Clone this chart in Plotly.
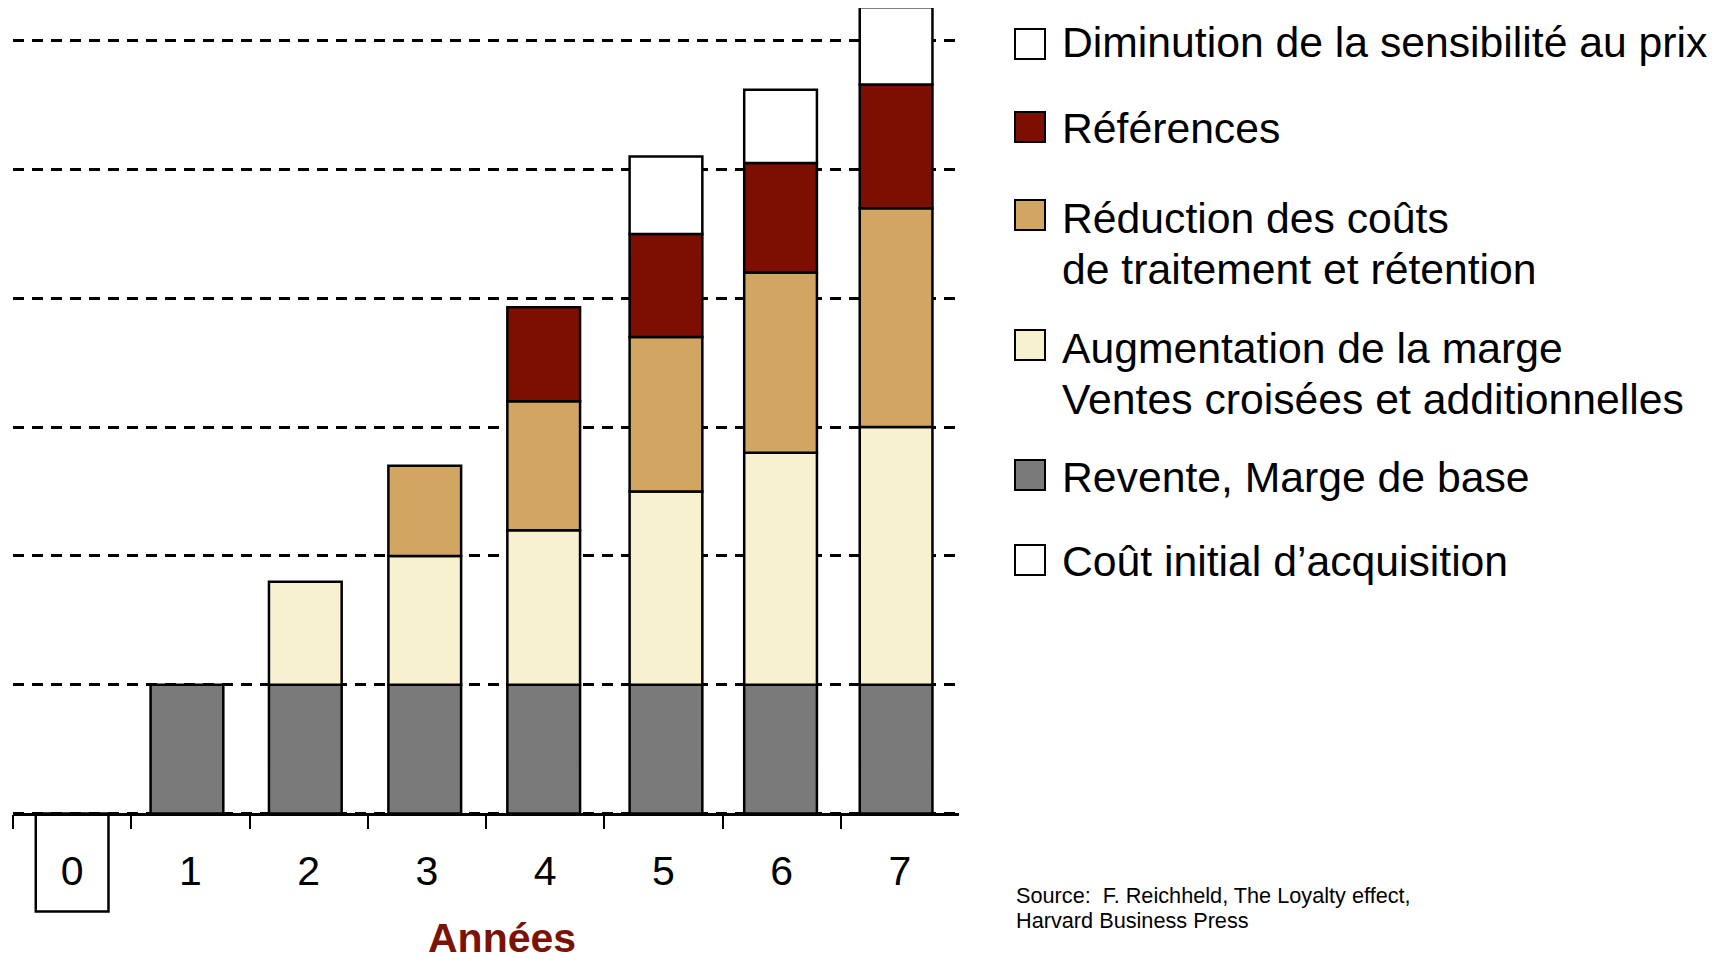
import plotly.graph_objects as go

# ---------------- data ----------------
years = ["0", "1", "2", "3", "4", "5", "6", "7"]
cout_initial = [-0.76, None, None, None, None, None, None, None]
revente = [None, 1.00, 1.00, 1.00, 1.00, 1.00, 1.00, 1.00]
augmentation = [None, None, 0.80, 1.00, 1.20, 1.50, 1.80, 2.00]
reduction = [None, None, None, 0.70, 1.00, 1.20, 1.40, 1.70]
references = [None, None, None, None, 0.73, 0.80, 0.85, 0.96]
diminution = [None, None, None, None, None, 0.60, 0.57, 0.60]

series_names = [
    "Coût initial d’acquisition",
    "Revente, Marge de base",
    "Augmentation de la marge Ventes croisées et additionnelles",
    "Réduction des coûts de traitement et rétention",
    "Références",
    "Diminution de la sensibilité au prix",
]
series_values = [cout_initial, revente, augmentation, reduction, references, diminution]
series_colors = ["#FFFFFF", "#7A7A7A", "#F7F1D0", "#D1A663", "#7D0E02", "#FFFFFF"]

# legend (top to bottom)
legend_lines = [
    ["Diminution de la sensibilité au prix"],
    ["Références"],
    ["Réduction des coûts", "de traitement et rétention"],
    ["Augmentation de la marge", "Ventes croisées et additionnelles"],
    ["Revente, Marge de base"],
    ["Coût initial d’acquisition"],
]
legend_colors = ["#FFFFFF", "#7D0E02", "#D1A663", "#F7F1D0", "#7A7A7A", "#FFFFFF"]

x_title = "Années"
source_lines = ["Source:  F. Reichheld, The Loyalty effect,", "Harvard Business Press"]

# ---------------- layout constants (pixels in the 1726x962 frame) ----------------
OFF = 8  # page body margin
W, H = 1726 - OFF, 962 - OFF
FONT = "Liberation Sans, Arial, sans-serif"
PLOT_L, PLOT_R = 13, 959
AXIS_Y0 = 813.5
UNIT = 128.8
YMIN = -0.8
YMAX = (AXIS_Y0 - OFF) / UNIT
top_px = AXIS_Y0 - YMAX * UNIT
bot_px = AXIS_Y0 - YMIN * UNIT
BAR_W = 0.615
BAR_SHIFTS = [0.0, -0.029, -0.028, -0.018, -0.012, 0.022, -0.009, -0.032]

def xp(px):
    return (px - OFF) / W

def yp(py):
    return 1 - (py - OFF) / H

ydom = [max(0.0, yp(bot_px)), min(1.0, yp(top_px))]
axis_pos = ydom[0] + (0 - YMIN) / (YMAX - YMIN) * (ydom[1] - ydom[0])

bar_offsets = [-BAR_W / 2 + s for s in BAR_SHIFTS]

fig = go.Figure()
for name, vals, col in zip(series_names, series_values, series_colors):
    fig.add_trace(go.Bar(
        x=years, y=vals, name=name, width=BAR_W, offset=bar_offsets,
        marker=dict(color=col, line=dict(color="black", width=2.5)),
        showlegend=False, cliponaxis=False,
    ))

shapes = []
annotations = []

# custom legend
sw_cy = [44, 127, 215, 345, 475, 560]
txt_cy = [[42], [128], [218, 269], [348, 399], [477], [561]]
SW = 30
for lines, col, cy, tys in zip(legend_lines, legend_colors, sw_cy, txt_cy):
    shapes.append(dict(type="rect", xref="paper", yref="paper",
                       x0=xp(1015), x1=xp(1015 + SW), y0=yp(cy + SW / 2), y1=yp(cy - SW / 2),
                       fillcolor=col, line=dict(color="black", width=2)))
    for line, ty in zip(lines, tys):
        annotations.append(dict(text=line, xref="paper", yref="paper",
                                x=xp(1060), y=yp(ty), xanchor="left", yanchor="middle",
                                showarrow=False, font=dict(family=FONT, size=42.7, color="black")))

for line, ty in zip(source_lines, [895, 920]):
    annotations.append(dict(text=line, xref="paper", yref="paper",
                            x=xp(1014), y=yp(ty), xanchor="left", yanchor="middle",
                            showarrow=False, font=dict(family=FONT, size=21.7, color="black")))

annotations.append(dict(text="<b>" + x_title + "</b>", xref="paper", yref="paper",
                        x=xp(502), y=0, xanchor="center", yanchor="bottom", borderpad=0,
                        showarrow=False, font=dict(family=FONT, size=41, color="#7B1305")))

fig.update_layout(
    width=W, height=H,
    margin=dict(l=0, r=0, t=0, b=0, autoexpand=False),
    paper_bgcolor="white", plot_bgcolor="white",
    barmode="relative",
    showlegend=False,
    shapes=shapes, annotations=annotations,
    xaxis=dict(
        domain=[xp(PLOT_L), xp(PLOT_R)], type="category",
        anchor="free", position=axis_pos,
        showline=True, linecolor="black", linewidth=2.5,
        ticks="outside", tickson="boundaries", ticklen=14, tickwidth=2, tickcolor="black",
        ticklabelstandoff=21,
        tickfont=dict(family=FONT, size=41, color="black"),
        showgrid=False, zeroline=False,
    ),
    yaxis=dict(
        domain=ydom, range=[YMIN, YMAX],
        showticklabels=False, ticks="",
        showgrid=True, gridcolor="black", gridwidth=2.5, griddash="10.5px,8.5px",
        tick0=0, dtick=1, zeroline=False, showline=False,
    ),
    font=dict(family=FONT),
)

fig.write_html("out.html")
